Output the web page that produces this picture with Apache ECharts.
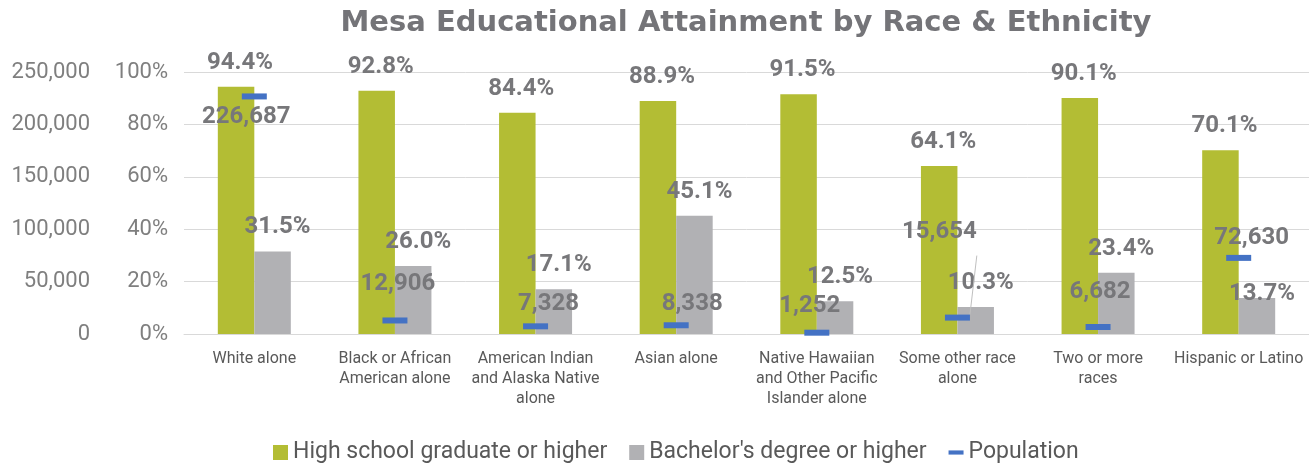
<!DOCTYPE html>
<html>
<head>
<meta charset="utf-8">
<script src="https://cdn.jsdelivr.net/npm/echarts@6/dist/echarts.min.js"></script>
<style>
html,body{margin:0;padding:0;background:#fff;}
#chart{width:1309px;height:464px;}
</style>
</head>
<body>
<div id="chart"></div>
<script>
const titleText = 'Mesa Educational Attainment by Race & Ethnicity';
const categories = [
  'White alone',
  'Black or African\nAmerican alone',
  'American Indian\nand Alaska Native\nalone',
  'Asian alone',
  'Native Hawaiian\nand Other Pacific\nIslander alone',
  'Some other race\nalone',
  'Two or more\nraces',
  'Hispanic or Latino'
];
const highSchool = [94.4, 92.8, 84.4, 88.9, 91.5, 64.1, 90.1, 70.1];
const bachelor = [31.5, 26.0, 17.1, 45.1, 12.5, 10.3, 23.4, 13.7];
const population = [226687, 12906, 7328, 8338, 1252, 15654, 6682, 72630];
const seriesNames = ['High school graduate or higher', "Bachelor's degree or higher", 'Population'];
const pctTicks = [0, 20, 40, 60, 80, 100];
const popTicks = [0, 50000, 100000, 150000, 200000, 250000];

// label placement (style only): offsets of population labels from their marker
const popLabelOffsets = [[-8,21],[3,-36],[13,-22],[16,-21],[-7,-27],[-18,-86],[2,-35],[13,-20]];

const labelColor = '#77777a';
const labelFont = {color: labelColor, fontFamily: 'Roboto', fontWeight: 'bold', fontSize: 24};

const chart = echarts.init(document.getElementById('chart'), null, {renderer: 'canvas'});

const popData = population.map((v, i) => {
  const item = {value: v, label: {offset: popLabelOffsets[i]}};
  if (i === 5) item.labelLine = {show: true};
  return item;
});

const bachData = bachelor.map((v, i) => {
  if (i === 7) return {value: v, label: {distance: -8}};
  return v;
});

chart.setOption({
  animation: false,
  backgroundColor: '#ffffff',
  title: {
    text: titleText,
    left: 741,
    textAlign: 'center',
    top: 4,
    textStyle: {color: '#747478', fontFamily: 'DejaVu Sans', fontWeight: 'bold', fontSize: 29}
  },
  legend: {
    top: 436,
    left: 268,
    itemWidth: 15,
    itemHeight: 15,
    itemGap: 22,
    textStyle: {color: '#595959', fontFamily: 'Roboto', fontSize: 23},
    data: [
      {name: seriesNames[0], icon: 'rect'},
      {name: seriesNames[1], icon: 'rect'},
      {name: seriesNames[2], icon: 'path://M0,0M0,15M0,5H18V10H0Z'}
    ]
  },
  grid: {left: 184, right: 0, top: 72, bottom: 130, containLabel: false},
  xAxis: {
    type: 'category',
    data: categories,
    axisLine: {show: true, lineStyle: {color: '#d9d9d9', width: 1}},
    axisTick: {show: false},
    axisLabel: {color: '#595959', fontFamily: 'Roboto', fontSize: 16, lineHeight: 20, margin: 15, interval: 0}
  },
  yAxis: [
    {
      type: 'value', min: pctTicks[0], max: pctTicks[pctTicks.length-1], interval: 20,
      position: 'left',
      axisLine: {show: false}, axisTick: {show: false},
      axisLabel: {color: '#7f7f7f', fontFamily: 'Roboto', fontSize: 22, margin: 16, formatter: '{value}%'},
      splitLine: {lineStyle: {color: '#d9d9d9', width: 1}}
    },
    {
      type: 'value', min: popTicks[0], max: popTicks[popTicks.length-1], interval: 50000,
      position: 'left', offset: 78,
      axisLine: {show: false}, axisTick: {show: false},
      axisLabel: {color: '#7f7f7f', fontFamily: 'Roboto', fontSize: 22, margin: 16,
        formatter: v => v.toLocaleString('en-US')},
      splitLine: {show: false}
    }
  ],
  series: [
    {
      name: seriesNames[0], type: 'bar', yAxisIndex: 0, data: highSchool,
      barWidth: 36.5, barGap: '0%',
      itemStyle: {color: '#b3bd34'},
      label: Object.assign({show: true, position: 'top', distance: 12, offset: [4, 0],
        formatter: p => Number(p.value).toFixed(1) + '%'}, labelFont)
    },
    {
      name: seriesNames[1], type: 'bar', yAxisIndex: 0, data: bachData,
      barWidth: 36.5, barGap: '0%',
      itemStyle: {color: '#b1b1b4'},
      label: Object.assign({show: true, position: 'top', distance: 12, offset: [5, 0],
        formatter: p => Number(p.value).toFixed(1) + '%'}, labelFont)
    },
    {
      name: seriesNames[2], type: 'line', yAxisIndex: 1, data: popData,
      lineStyle: {width: 0, opacity: 0},
      symbol: 'rect', symbolSize: [25, 6],
      itemStyle: {color: '#4472c4'},
      z: 5,
      label: Object.assign({show: true, position: 'inside',
        formatter: p => Number(p.value).toLocaleString('en-US')}, labelFont),
      labelLine: {show: false, lineStyle: {color: '#bfbfbf', width: 1}}
    }
  ]
});
</script>
</body>
</html>
